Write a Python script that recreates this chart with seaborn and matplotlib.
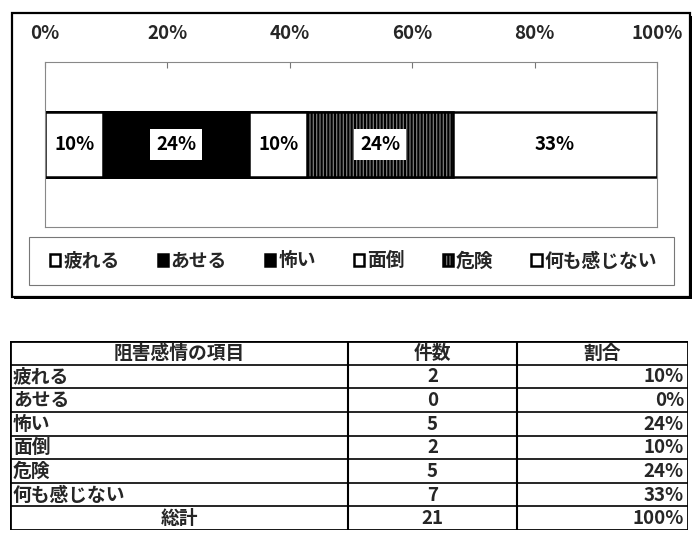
import numpy as np
import matplotlib
matplotlib.use("Agg")
import matplotlib.pyplot as plt
import seaborn as sns
from matplotlib.patches import Rectangle
from matplotlib.lines import Line2D

# ---- data ----
categories = ["疲れる", "あせる", "怖い", "面倒", "危険", "何も感じない"]
counts = [2, 0, 5, 2, 5, 7]
pct_labels = ["10%", "0%", "24%", "10%", "24%", "33%"]
total_label = "総計"
total_count = 21
total_pct = "100%"
header = ["阻害感情の項目", "件数", "割合"]
xticks = [0, 20, 40, 60, 80, 100]
xtick_labels = ["0%", "20%", "40%", "60%", "80%", "100%"]

# ---- styles ----
seg_colors = ["white", "black", "black", "white", "#7a7a7a", "white"]
seg_hatch = [None, None, None, None, "|||||", None]

sns.set_theme(style="white")
CJK = ['Noto Sans CJK JP', 'DejaVu Sans']
NUM = ['Liberation Sans Narrow', 'Noto Sans CJK JP', 'DejaVu Sans']
plt.rcParams['font.family'] = CJK
plt.rcParams['hatch.linewidth'] = 1.5

W, H = 700, 541
fig = plt.figure(figsize=(W / 100, H / 100), dpi=100)
fig.patch.set_facecolor("white")


def fx(px):
    return px / W


def fy(py):
    return 1 - py / H


# outer chart frame (with slight shadow)
fig.add_artist(Rectangle((fx(14), fy(298.5)), fx(692) - fx(14), fy(16) - fy(298.5),
                         transform=fig.transFigure, facecolor="black",
                         edgecolor="black", lw=0, zorder=0))
fig.add_artist(Rectangle((fx(12), fy(296.5)), fx(690) - fx(12), fy(13) - fy(296.5),
                         transform=fig.transFigure, facecolor="white",
                         edgecolor="black", lw=1.6, zorder=0.5))

ax = fig.add_axes([fx(45), fy(227), fx(657) - fx(45), fy(62) - fy(227)])
ax.set_zorder(2)
ax.patch.set_alpha(0)

shares = np.array(counts, dtype=float) / sum(counts) * 100
cum = np.cumsum(shares)
row = ["全体"]
for i in range(len(categories) - 1, -1, -1):
    sns.barplot(x=[cum[i]], y=row, orient="h", color=seg_colors[i],
                saturation=1, width=0.39, ax=ax, label=categories[i],
                edgecolor="black", linewidth=1.8, hatch=seg_hatch[i])

for i in range(len(categories)):
    if shares[i] <= 0:
        continue
    ax.text(cum[i] - shares[i] / 2, 0, pct_labels[i], ha="center", va="center",
            fontsize=13.5, fontweight="bold", family=NUM, color="black", zorder=5,
            bbox=dict(boxstyle="square,pad=0.3", facecolor="white",
                      edgecolor="none"))

ax.set_xlim(0, 100)
ax.set_ylim(0.5, -0.5)
ax.set_xlabel("")
ax.set_ylabel("")
ax.set_yticks([])
ax.xaxis.tick_top()
ax.set_xticks(xticks)
ax.set_xticklabels(xtick_labels, family=NUM, fontweight="bold")
ax.tick_params(axis="x", top=True, bottom=False, direction="in", length=4,
               color="#777777", width=0.8, pad=14, labelsize=13.5)
for s in ax.spines.values():
    s.set_color("#888888")
    s.set_linewidth(0.8)
if ax.get_legend() is not None:
    ax.get_legend().remove()

# legend (frame drawn separately)
fig.add_artist(Rectangle((fx(29), fy(285)), fx(674) - fx(29), fy(237) - fy(285),
                         transform=fig.transFigure, facecolor="white",
                         edgecolor="#777777", lw=0.8, zorder=1))
h, l = ax.get_legend_handles_labels()
hmap = dict(zip(l, h))
handles = [hmap[c] for c in categories]
leg = fig.legend(handles, categories, loc="center",
                 bbox_to_anchor=(fx(50), fy(285), fx(657) - fx(50), fy(237) - fy(285)),
                 bbox_transform=fig.transFigure, mode="expand", ncol=6,
                 frameon=False, handlelength=0.55, handleheight=0.55,
                 handletextpad=0.15, borderaxespad=0, borderpad=0,
                 prop={"family": CJK, "size": 13.5, "weight": "bold"})
leg.set_zorder(3)

# ---- table ----
tab = fig.add_axes([fx(10), fy(530), fx(688) - fx(10), fy(341) - fy(530)])
tab.set_xlim(10, 688)
tab.set_ylim(530, 341)
tab.axis("off")
col_x = [10, 348, 517, 688]
n_rows = len(categories) + 2
row_h = (530 - 341) / n_rows
row_y = [341 + k * row_h for k in range(n_rows + 1)]

for k, yv in enumerate(row_y):
    lw = 2.0 if k in (0, n_rows) else 1.2
    tab.add_line(Line2D([col_x[0], col_x[-1]], [yv, yv], color="black", lw=lw))
for k, xv in enumerate(col_x):
    lw = 2.0 if k in (0, len(col_x) - 1) else 1.5
    tab.add_line(Line2D([xv, xv], [row_y[0], row_y[-1]], color="black", lw=lw))

fs = 13.5
tkw = dict(va="center", fontsize=fs, fontweight="bold")


def cy(k):
    return (row_y[k] + row_y[k + 1]) / 2 + 0.5


for j, txt in enumerate(header):
    tab.text((col_x[j] + col_x[j + 1]) / 2, cy(0), txt, ha="center", family=CJK, **tkw)
for i, c in enumerate(categories):
    k = i + 1
    tab.text(col_x[0] + 3, cy(k), c, ha="left", family=CJK, **tkw)
    tab.text((col_x[1] + col_x[2]) / 2, cy(k), str(counts[i]), ha="center", family=NUM, **tkw)
    tab.text(col_x[3] - 4, cy(k), pct_labels[i], ha="right", family=NUM, **tkw)
k = n_rows - 1
tab.text((col_x[0] + col_x[1]) / 2, cy(k), total_label, ha="center", family=CJK, **tkw)
tab.text((col_x[1] + col_x[2]) / 2, cy(k), str(total_count), ha="center", family=NUM, **tkw)
tab.text(col_x[3] - 4, cy(k), total_pct, ha="right", family=NUM, **tkw)

fig.savefig("out.png", dpi=100, facecolor="white")
